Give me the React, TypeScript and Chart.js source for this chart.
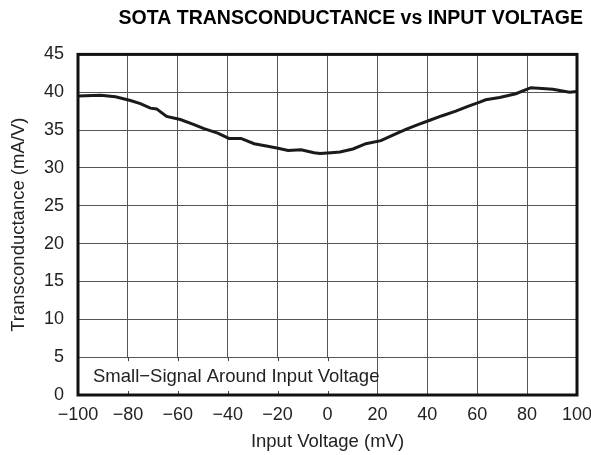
import { useEffect, useRef } from "react";
import { Chart, registerables } from "chart.js";

Chart.register(...registerables);

const chartTitle = "SOTA TRANSCONDUCTANCE vs INPUT VOLTAGE";
const xAxisLabel = "Input Voltage (mV)";
const yAxisLabel = "Transconductance (mA/V)";
const noteText = "Small\u2212Signal Around Input Voltage";

const inputVoltage = [
  -100, -91, -85, -79, -75, -71, -68.5, -64.5, -59, -54, -49.5, -44, -39.5, -34.7, -29.4,
  -24.5, -19.8, -15.8, -10.6, -5.4, -3, 1.4, 5, 10.2, 15.4, 21.4, 26, 31.4, 36, 41, 46,
  51.4, 56, 61, 63.4, 69, 75.5, 81.5, 86, 90.3, 97, 100,
];
const transconductance = [
  39.5, 39.6, 39.4, 38.9, 38.5, 37.9, 37.8, 36.8, 36.4, 35.8, 35.2, 34.6, 33.9, 33.9, 33.2,
  32.9, 32.6, 32.3, 32.4, 32.0, 31.9, 32.0, 32.1, 32.5, 33.2, 33.6, 34.3, 35.1, 35.7, 36.3, 36.9,
  37.5, 38.1, 38.7, 39.0, 39.3, 39.8, 40.6, 40.5, 40.4, 40.0, 40.1,
];
const xMin = -100;
const xMax = 100;
const xStep = 20;
const yMin = 0;
const yMax = 45;
const yStep = 5;
const noteXRange = [-100, 20];
const noteYRange = [0, 5];
const noteStubs = [-80, -60, -40, -20, 0];

const FONT = "'Liberation Sans', Arial, Helvetica, sans-serif";

const minusFmt = (v: number | string) => String(v).replace("-", "\u2212");

export default function App() {
  const ref = useRef<HTMLCanvasElement | null>(null);

  useEffect(() => {
    if (!ref.current) return;

    const notePlugin = {
      id: "noteBox",
      beforeDatasetsDraw(chart: any) {
        const { ctx, scales } = chart;
        const x = scales.x;
        const y = scales.y;
        const x0 = x.getPixelForValue(noteXRange[0]);
        const x1 = x.getPixelForValue(noteXRange[1]);
        const y0 = y.getPixelForValue(noteYRange[0]);
        const y1 = y.getPixelForValue(noteYRange[1]);
        ctx.save();
        ctx.fillStyle = "#ffffff";
        ctx.fillRect(x0, y1 + 1, x1 - x0 - 1, y0 - y1 - 1);
        ctx.strokeStyle = "#444";
        ctx.lineWidth = 1;
        ctx.beginPath();
        for (const v of noteStubs) {
          const px = Math.round(x.getPixelForValue(v)) + 0.5;
          ctx.moveTo(px, y1);
          ctx.lineTo(px, y1 + 4);
          ctx.moveTo(px, y0);
          ctx.lineTo(px, y0 - 4);
        }
        ctx.stroke();
        ctx.fillStyle = "#222";
        ctx.font = `18.5px ${FONT}`;
        ctx.textBaseline = "middle";
        ctx.textAlign = "left";
        ctx.fillText(noteText, x0 + 15, (y0 + y1) / 2 + 1);
        ctx.restore();
      },
    };

    const framePlugin = {
      id: "frame",
      afterDraw(chart: any) {
        const { ctx, chartArea } = chart;
        ctx.save();
        ctx.strokeStyle = "#111";
        ctx.lineWidth = 3;
        ctx.strokeRect(
          chartArea.left,
          chartArea.top,
          chartArea.right - chartArea.left,
          chartArea.bottom - chartArea.top
        );
        ctx.restore();
      },
    };

    const chart = new Chart(ref.current, {
      type: "line",
      data: {
        datasets: [
          {
            data: inputVoltage.map((v, i) => ({ x: v, y: transconductance[i] })),
            borderColor: "#1a1a1a",
            borderWidth: 3,
            pointRadius: 0,
            tension: 0,
            fill: false,
          },
        ],
      },
      options: {
        responsive: false,
        animation: false,
        layout: { padding: { left: 0, right: 8, top: 0, bottom: 0 } },
        plugins: {
          legend: { display: false },
          tooltip: { enabled: false },
          title: {
            display: true,
            text: chartTitle,
            align: "end",
            color: "#000",
            font: { family: FONT, size: 19.5, weight: "bold" },
            padding: { top: 7, bottom: 24 },
          },
        },
        scales: {
          x: {
            type: "linear",
            min: xMin,
            max: xMax,
            ticks: {
              stepSize: xStep,
              color: "#222",
              font: { family: FONT, size: 18 },
              padding: 9,
              maxRotation: 0,
              callback: (v: any) => minusFmt(v),
            },
            grid: { color: "#555", lineWidth: 1, drawTicks: false },
            border: { display: false },
            title: {
              display: true,
              text: xAxisLabel,
              color: "#222",
              font: { family: FONT, size: 18.5 },
              padding: { top: 0, bottom: 2 },
            },
            afterFit: (s: any) => {
              s.height = 60;
              s.paddingLeft = 0;
              s.paddingRight = 14;
            },
          },
          y: {
            type: "linear",
            min: yMin,
            max: yMax,
            ticks: {
              stepSize: yStep,
              color: "#222",
              font: { family: FONT, size: 18 },
              padding: 14,
            },
            grid: { color: "#555", lineWidth: 1, drawTicks: false },
            border: { display: false },
            title: {
              display: true,
              text: yAxisLabel,
              color: "#222",
              font: { family: FONT, size: 18.5 },
              padding: { top: 8, bottom: 0 },
            },
            afterFit: (s: any) => {
              s.width = 78;
            },
          },
        },
      },
      plugins: [notePlugin, framePlugin],
    } as any);

    return () => chart.destroy();
  }, []);

  return (
    <canvas
      ref={ref}
      width={591}
      height={455}
      style={{ display: "block", position: "absolute", left: 0, top: 0, width: "591px", height: "455px" }}
    />
  );
}
